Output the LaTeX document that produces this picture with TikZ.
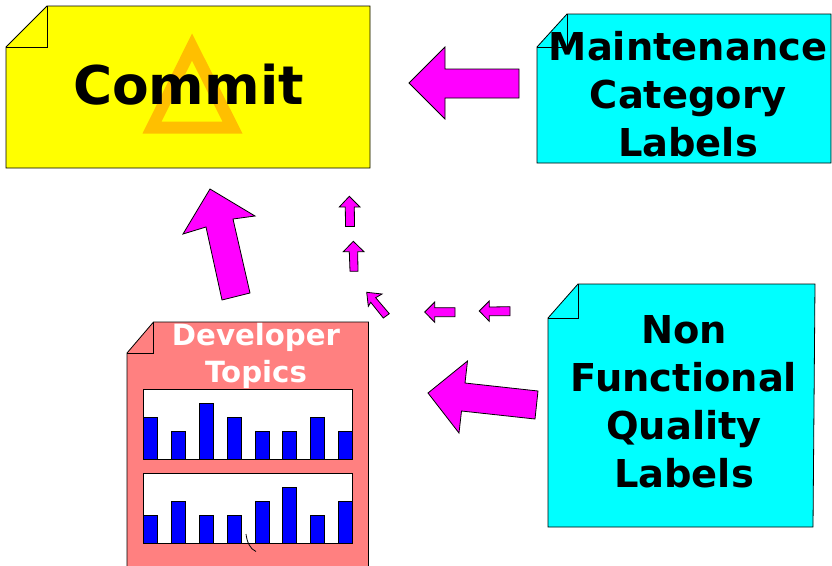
\documentclass[tikz,border=0pt]{standalone}
\usepackage{fontspec}
\setmainfont{DejaVu Sans}
\definecolor{noteyellow}{RGB}{255,255,0}
\definecolor{notecyan}{RGB}{0,255,255}
\definecolor{arrowmagenta}{RGB}{255,0,255}
\definecolor{barblue}{RGB}{0,0,255}
\definecolor{devpink}{RGB}{255,128,128}
\definecolor{triangleorange}{RGB}{255,191,0}

\begin{document}
\begin{tikzpicture}[x=0.75pt,y=-0.75pt,line width=0.6pt,
    note/.style={draw=black,fill=#1},
    blockarrow/.style={draw=black,fill=arrowmagenta},
    bar/.style={draw=black,fill=barblue},
    chartframe/.style={draw=black,fill=white},
    title/.style={align=center,inner sep=0pt,font=\bfseries\fontsize{#1}{#1}\selectfont}]
\useasboundingbox (0,0) rectangle (832,565);
\clip (0,0) rectangle (832,565);

\coordinate (commitCorner) at (47,6);
\coordinate (commitFold) at (47,47);
\coordinate (commitEdge) at (6,47);
\coordinate (maintCorner) at (567,14);
\coordinate (maintFold) at (567,47);
\coordinate (maintEdge) at (537,47);
\coordinate (nfqCorner) at (578,284);
\coordinate (nfqFold) at (578,318);
\coordinate (nfqEdge) at (548,318);
\coordinate (devCorner) at (153.5,322);
\coordinate (devFold) at (153.5,353);
\coordinate (devEdge) at (127,353);

% notes
\draw [note=noteyellow] (commitEdge) -- (commitCorner) -- (370,6) -- (370,168) -- (6,168) -- cycle;
\draw (commitCorner) -- (commitFold) -- (commitEdge);
\fill [triangleorange,even odd rule] (192,33.5) -- (242.5,133.5) -- (142.5,133.5) -- cycle (192,60.5) -- (222.5,121.5) -- (161.5,121.5) -- cycle;

\draw [note=notecyan] (maintEdge) -- (maintCorner) -- (831,14) -- (831,163) -- (537,163) -- cycle;
\draw (maintCorner) -- (maintFold) -- (maintEdge);

\draw [note=notecyan] (nfqEdge) -- (nfqCorner) -- (815,284) -- (813,527) -- (548,527) -- cycle;
\draw (nfqCorner) -- (nfqFold) -- (nfqEdge);

\draw [note=devpink] (devEdge) -- (devCorner) -- (368.5,322) -- (368.5,580) -- (127,580) -- cycle;
\draw (devCorner) -- (devFold) -- (devEdge);

% upper chart
\draw [chartframe] (143.5,389.5) rectangle (352.5,459.5);
\draw [bar] (143.5,417.5) rectangle ++(14,42);
\draw [bar] (171.3,431.5) rectangle ++(14,28);
\draw [bar] (199.2,403.5) rectangle ++(14,56);
\draw [bar] (227,417.5) rectangle ++(14,42);
\draw [bar] (254.9,431.5) rectangle ++(14,28);
\draw [bar] (282.7,431.5) rectangle ++(14,28);
\draw [bar] (310.6,417.5) rectangle ++(14,42);
\draw [bar] (338.5,431.5) rectangle ++(14,28);

% lower chart
\draw [chartframe] (143.5,473.5) rectangle (352.5,543);
\draw [bar] (143.5,515) rectangle ++(14,28);
\draw [bar] (171.3,501) rectangle ++(14,42);
\draw [bar] (199.2,515) rectangle ++(14,28);
\draw [bar] (227,515) rectangle ++(14,28);
\draw [bar] (254.9,501) rectangle ++(14,42);
\draw [bar] (282.7,487) rectangle ++(14,56);
\draw [bar] (310.6,515) rectangle ++(14,28);
\draw [bar] (338.5,501) rectangle ++(14,42);
\draw (246,534) .. controls (247,542) and (250,549) .. (256,551.5);

% big arrows
\draw [blockarrow] (409,83) -- (445,47) -- (445,69) -- (519,69) -- (519,98) -- (445,98) -- (445,119) -- cycle;
\draw [blockarrow] (428,393) -- (467.5,361) -- (465,383) -- (538,391) -- (535,419) -- (461.5,411) -- (459,433) -- cycle;
\draw [blockarrow] (210,189) -- (255,216) -- (233,219) -- (250,293) -- (222,300) -- (206,227) -- (183,234) -- cycle;

% small arrows
\draw [blockarrow] (349.3,196.3) -- (360,207) -- (354.3,207) -- (354.5,226.5) -- (345.5,226.5) -- (345.3,207) -- (339.3,207) -- cycle;
\draw [blockarrow] (353.3,241.3) -- (364,251.7) -- (357.7,251.7) -- (358,271.3) -- (350,271.3) -- (349.3,251.7) -- (343.3,251.7) -- cycle;
\draw [blockarrow] (366.7,292.3) -- (382,294) -- (375.7,297.7) -- (389.3,313.7) -- (383.3,318) -- (370.7,302.3) -- (368.3,306.3) -- cycle;
\draw [blockarrow] (424.7,312) -- (434.7,302) -- (434.7,307.7) -- (455,307.7) -- (455,316.7) -- (434.7,316.7) -- (434.7,322.3) -- cycle;
\draw [blockarrow] (479.3,311) -- (489.3,301) -- (489.3,307) -- (510,306.7) -- (510,315.7) -- (489.3,315.7) -- (489.3,321.3) -- cycle;

% labels
\node [title=40] (commit) at (188.5,85) {Commit};
\node [title=28.8] (maint) at (688,94.5) {Maintenance\\[7.2pt]Category\\[7.2pt]Labels};
\node [title=28.8] (nfq) at (684,402) {Non\\[7.2pt]Functional\\[7.2pt]Quality\\[7.2pt]Labels};
\node [title=21.9,text=white] (dev) at (256,356) {Developer\\[5.5pt]Topics};
\end{tikzpicture}
\end{document}
